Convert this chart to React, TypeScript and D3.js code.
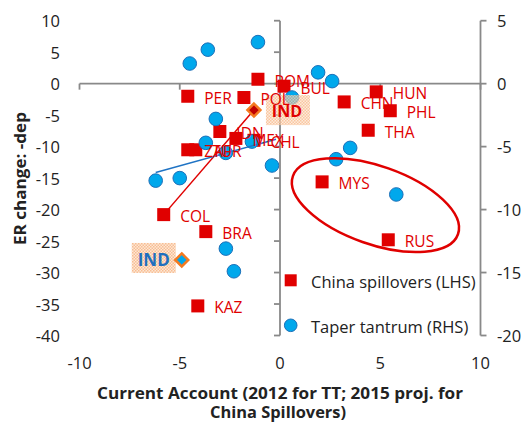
import React from "react";
import * as d3 from "d3";

// ---- data ----
const chinaNames = ["PER", "POL", "ROM", "BUL", "CHN", "HUN", "PHL", "THA", "MYS", "RUS", "COL", "BRA", "KAZ", "IDN", "MEX", "CHL", "ZAF", "TUR"];
const chinaCA = [-4.6, -1.8, -1.1, 0.2, 3.2, 4.8, 5.5, 4.4, 2.1, 5.4, -5.8, -3.7, -4.1, -3.0, -2.2, -1.3, -4.6, -4.2];
const chinaER = [-2.0, -2.2, 0.7, -0.4, -2.9, -1.3, -4.3, -7.4, -15.6, -24.8, -20.8, -23.5, -35.3, -7.6, -8.7, -9.0, -10.5, -10.5];

const taperCA = [-4.5, -3.6, -1.1, -3.2, -3.7, -2.7, -1.4, -6.2, -5.0, 1.9, 2.6, 0.6, -0.4, 2.8, 3.5, 5.8, -2.7, -2.3];
const taperER = [1.6, 2.7, 3.3, -2.8, -4.7, -5.5, -4.6, -7.7, -7.5, 0.9, 0.2, -1.1, -6.5, -6.0, -5.1, -8.8, -13.1, -14.9];

const indChinaCA = [-1.3];
const indChinaER = [-4.2];
const indTaperCA = [-4.9];
const indTaperER = [-14.0];

const chinaLineCA = [-5.8, -1.3];
const chinaLineER = [-20.8, -4.2];
const taperLineCA = [-6.2, -0.2];
const taperLineER = [-7.06, -4.42];

const xTicks = [-10, -5, 0, 5, 10];
const yLeftTicks = [10, 5, 0, -5, -10, -15, -20, -25, -30, -35, -40];
const yRightTicks = [5, 0, -5, -10, -15, -20];

const ellipseCA = [4.76];
const ellipseER = [-19.3];

const legendLabels = ["China spillovers (LHS)", "Taper tantrum (RHS)"];
const xTitle = ["Current Account (2012 for TT; 2015 proj. for", "China Spillovers)"];
const yTitle = "ER change: -dep";

// ---- styles ----
const RED = "#e00000";
const BLUE = "#00a8ec";
const BLUE_STROKE = "#1c6fb8";
const ORANGE = "#f47a20";
const AXIS = "#898989";
const TEXT = "#222";
const FONT = "'Open Sans', 'Noto Sans', sans-serif";

export default function App() {
  const W = 526, H = 422;
  const x = d3.scaleLinear().domain([-10, 10]).range([79.5, 480.5]);
  const yL = d3.scaleLinear().domain([-40, 10]).range([335.5, 20.7]);
  const yR = d3.scaleLinear().domain([-20, 5]).range([335.5, 20.7]);

  const x0 = x(0);
  const xRight = x(10);
  const y0 = yL(0);
  const sq = 13;
  const r = 6.8;

  const diamond = (cx: number, cy: number, s: number) =>
    `M${cx},${cy - s}L${cx + s},${cy}L${cx},${cy + s}L${cx - s},${cy}Z`;

  const lineGen = d3.line<[number, number]>();

  const chinaLine = lineGen(chinaLineCA.map((v, i) => [x(v), yL(chinaLineER[i])] as [number, number]));
  const taperLine = lineGen(taperLineCA.map((v, i) => [x(v), yR(taperLineER[i])] as [number, number]));

  const ex = x(ellipseCA[0]);
  const ey = yL(ellipseER[0]);

  const indRX = x(indChinaCA[0]);
  const indRY = yL(indChinaER[0]);
  const indBX = x(indTaperCA[0]);
  const indBY = yR(indTaperER[0]);

  return (
    <svg width={W} height={H} style={{ position: "fixed", left: 0, top: 0, background: "#fff" }} fontFamily={FONT}>
      <defs>
        <pattern id="dots" width="3" height="3" patternUnits="userSpaceOnUse">
          <rect width="3" height="3" fill="#fde2cb" />
          <rect width="1.5" height="1.5" fill="#f6ad78" />
          <rect x="1.5" y="1.5" width="1.5" height="1.5" fill="#f6ad78" />
        </pattern>
      </defs>
      <rect width={W} height={H} fill="#fff" />

      {/* axes */}
      <g stroke={AXIS} strokeWidth={1.8} fill="none">
        <line x1={x(-10)} x2={xRight} y1={y0} y2={y0} />
        {xTicks.map((t) => (
          <line key={"xt" + t} x1={x(t)} x2={x(t)} y1={y0} y2={y0 + 6} />
        ))}
        <line x1={x0} x2={x0} y1={yL(10)} y2={yL(-40)} />
        {yLeftTicks.map((t) => (
          <line key={"yl" + t} x1={x0 - 6} x2={x0} y1={yL(t)} y2={yL(t)} />
        ))}
        <line x1={xRight} x2={xRight} y1={yR(5)} y2={yR(-20)} />
        {yRightTicks.map((t) => (
          <line key={"yr" + t} x1={xRight} x2={xRight + 6} y1={yR(t)} y2={yR(t)} />
        ))}
      </g>

      {/* tick labels */}
      <g fill={TEXT} fontSize={16.5}>
        {yLeftTicks.map((t) => (
          <text key={"lyl" + t} x={60} y={yL(t)} textAnchor="end" dominantBaseline="central">
            {t}
          </text>
        ))}
        {yRightTicks.map((t) => (
          <text key={"lyr" + t} x={497} y={yR(t)} textAnchor="start" dominantBaseline="central">
            {t}
          </text>
        ))}
        {xTicks.map((t) => (
          <text key={"lx" + t} x={x(t)} y={362} textAnchor="middle" dominantBaseline="central">
            {t}
          </text>
        ))}
      </g>

      {/* axis titles */}
      <g fill={TEXT} fontSize={16} fontWeight="bold">
        <text x={97} y={392.5} dominantBaseline="central" textLength={366} lengthAdjust="spacingAndGlyphs">{xTitle[0]}</text>
        <text x={210} y={411.5} dominantBaseline="central" textLength={136} lengthAdjust="spacingAndGlyphs">{xTitle[1]}</text>
        <text transform={`translate(19.5,245) rotate(-90)`} dominantBaseline="central" textLength={133} lengthAdjust="spacingAndGlyphs">
          {yTitle}
        </text>
      </g>

      {/* China trend line */}
      <path d={chinaLine || ""} stroke={RED} strokeWidth={1.5} fill="none" />

      {/* China spillovers squares */}
      <g fill={RED}>
        {chinaCA.map((v, i) => (
          <rect key={"c" + i} x={x(v) - sq / 2} y={yL(chinaER[i]) - sq / 2} width={sq} height={sq} />
        ))}
      </g>

      {/* Taper tantrum circles */}
      <g fill={BLUE} stroke={BLUE_STROKE} strokeWidth={1}>
        {taperCA.map((v, i) => (
          <circle key={"t" + i} cx={x(v)} cy={yR(taperER[i])} r={r} />
        ))}
      </g>

      <path d={taperLine || ""} stroke="#1f73c4" strokeWidth={1.5} fill="none" />

      {/* India highlights */}
      <rect x={indRX + 12} y={indRY - 15} width={44} height={30} fill="url(#dots)" opacity={0.7} />
      <text x={indRX + 33} y={indRY + 1} textAnchor="middle" dominantBaseline="central" fontSize={16} fontWeight="bold" fill={RED}>
        IND
      </text>
      <path d={diamond(indRX, indRY, 6.5)} fill="#c00000" stroke={ORANGE} strokeWidth={2.5} />

      <rect x={indBX - 50} y={indBY - 17} width={44} height={30} fill="url(#dots)" opacity={0.8} />
      <text x={indBX - 28} y={indBY} textAnchor="middle" dominantBaseline="central" fontSize={17} fontWeight="bold" fill="#1e6fbe">
        IND
      </text>
      <path d={diamond(indBX, indBY, 6.5)} fill={BLUE} stroke={ORANGE} strokeWidth={2.5} />

      {/* China labels */}
      <g fill={RED} fontSize={15.5}>
        {chinaNames.map((n, i) => (
          <text key={"n" + n} x={x(chinaCA[i]) + 16.5} y={yL(chinaER[i]) + 1.5} dominantBaseline="central">
            {n}
          </text>
        ))}
      </g>

      {/* ellipse */}
      <ellipse cx={ex} cy={ey} rx={87.5} ry={39} transform={`rotate(19.4 ${ex} ${ey})`} fill="none" stroke={RED} strokeWidth={2.5} />

      {/* legend */}
      <rect x={290.7 - 6} y={280.3 - 6} width={12} height={12} fill={RED} />
      <text x={311} y={281} fontSize={16.5} fill={TEXT} dominantBaseline="central">{legendLabels[0]}</text>
      <circle cx={290.7} cy={325.3} r={6.3} fill={BLUE} stroke={BLUE_STROKE} strokeWidth={1} />
      <text x={311} y={326} fontSize={16.5} fill={TEXT} dominantBaseline="central">{legendLabels[1]}</text>
    </svg>
  );
}
